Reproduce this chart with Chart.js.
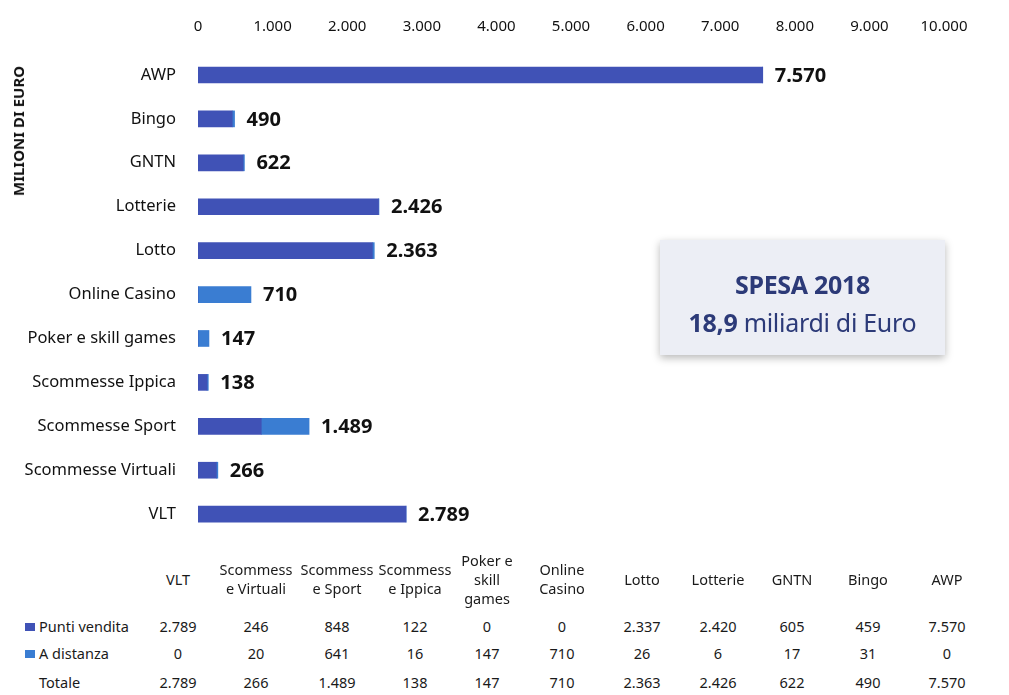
<!DOCTYPE html>
<html lang="it">
<head>
    <meta charset="UTF-8">
    <title>Spesa 2018</title>
    <script src="https://cdn.jsdelivr.net/npm/chart.js"></script>
    <style>
        body { margin: 0; background: #fff; font-family: "Noto Sans", sans-serif; }
        #wrap { position: relative; width: 1009px; height: 695px; overflow: hidden; }
        #myChart { position: absolute; left: 0; top: 0; }
        .ytitle {
            position: absolute; left: 18px; top: 131px;
            transform: translate(-50%, -50%) rotate(-90deg);
            font-weight: bold; font-size: 15px; color: #111; white-space: nowrap;
        }
        .box {
            position: absolute; left: 660px; top: 240px; width: 285px; height: 115px;
            background: #eceef5; box-shadow: 0 3px 8px rgba(0,0,0,0.28);
            color: #2c3a78; text-align: center; font-size: 25px; line-height: 38px;
            padding-top: 25px; box-sizing: border-box; letter-spacing: -0.3px;
        }
        .cell { position: absolute; width: 90px; text-align: center; font-size: 14.5px; color: #1a1a1a; line-height: 19px; }
        .rowlab { position: absolute; left: 25px; font-size: 14.5px; color: #1a1a1a; line-height: 19px; }
        .mark { display: inline-block; width: 10px; height: 8px; margin-right: 4px; vertical-align: 1px; }
    </style>
</head>
<body>
<div id="wrap">
    <canvas id="myChart" width="1009" height="568"></canvas>
    <div class="ytitle">MILIONI DI EURO</div>
    <div class="box"><b>SPESA 2018</b><br><b>18,9</b> miliardi di Euro</div>
    <div id="table"></div>
</div>
<script>
    const categories = ['AWP', 'Bingo', 'GNTN', 'Lotterie', 'Lotto', 'Online Casino', 'Poker e skill games',
        'Scommesse Ippica', 'Scommesse Sport', 'Scommesse Virtuali', 'VLT'];
    const puntiVendita = [7570, 459, 605, 2420, 2337, 0, 0, 122, 848, 246, 2789];
    const aDistanza = [0, 31, 17, 6, 26, 710, 147, 16, 641, 20, 0];
    const totale = [7570, 490, 622, 2426, 2363, 710, 147, 138, 1489, 266, 2789];
    const xTicks = [0, 1000, 2000, 3000, 4000, 5000, 6000, 7000, 8000, 9000, 10000];

    // intestazioni della tabella (ordine inverso, come nel grafico originale)
    const tableHeaders = ['VLT', 'Scommess\ne Virtuali', 'Scommess\ne Sport', 'Scommess\ne Ippica',
        'Poker e\nskill\ngames', 'Online\nCasino', 'Lotto', 'Lotterie', 'GNTN', 'Bingo', 'AWP'];

    const colPunti = '#4052b6';
    const colDistanza = '#3a7dd2';

    function fmt(n) {
        return String(n).replace(/\B(?=(\d{3})+(?!\d))/g, '.');
    }

    const totalLabels = {
        id: 'totalLabels',
        afterDatasetsDraw(chart) {
            const ctx = chart.ctx;
            const x = chart.scales.x;
            const y = chart.scales.y;
            ctx.save();
            ctx.font = 'bold 20px "Noto Sans"';
            ctx.fillStyle = '#111';
            ctx.textBaseline = 'middle';
            totale.forEach((v, i) => {
                ctx.fillText(fmt(v), x.getPixelForValue(v) + 12, y.getPixelForValue(i) + 1);
            });
            ctx.restore();
        }
    };

    new Chart(document.getElementById('myChart').getContext('2d'), {
        type: 'bar',
        data: {
            labels: categories,
            datasets: [
                { label: 'Punti vendita', data: puntiVendita, backgroundColor: colPunti, barThickness: 16 },
                { label: 'A distanza', data: aDistanza, backgroundColor: colDistanza, barThickness: 16 }
            ]
        },
        options: {
            indexAxis: 'y',
            responsive: false,
            animation: false,
            layout: { padding: { left: 0, right: 65, top: 0, bottom: 9 } },
            scales: {
                x: {
                    position: 'top',
                    stacked: true,
                    min: 0,
                    max: 10000,
                    afterBuildTicks: (s) => { s.ticks = xTicks.map(v => ({ value: v })); },
                    afterFit: (s) => { s.height = 53; },
                    grid: { display: false, drawTicks: false },
                    border: { display: false },
                    ticks: {
                        padding: 17,
                        color: '#111',
                        font: { family: 'Noto Sans', size: 15 },
                        callback: (v) => fmt(v),
                        maxRotation: 0
                    }
                },
                y: {
                    stacked: true,
                    afterFit: (s) => { s.width = 198; },
                    grid: { display: false, drawTicks: false },
                    border: { display: false },
                    ticks: {
                        padding: 22,
                        color: '#111',
                        font: { family: 'Noto Sans', size: 16.5 }
                    }
                }
            },
            plugins: {
                legend: { display: false },
                tooltip: { enabled: false }
            }
        },
        plugins: [totalLabels]
    });

    // tabella sotto il grafico
    const table = document.getElementById('table');
    const colX = [178, 256, 337, 415, 487, 562, 642, 718, 792, 868, 947];
    const rowY = [617, 644, 673];
    const rows = [
        { name: 'Punti vendita', color: colPunti, values: puntiVendita },
        { name: 'A distanza', color: colDistanza, values: aDistanza },
        { name: 'Totale', color: null, values: totale }
    ];
    let html = '';
    tableHeaders.forEach((h, c) => {
        const lines = h.split('\n');
        const top = 579 - lines.length * 19 / 2;
        html += `<div class="cell" style="left:${colX[c] - 45}px;top:${top}px">${lines.join('<br>')}</div>`;
    });
    rows.forEach((r, k) => {
        const mark = r.color ? `<span class="mark" style="background:${r.color}"></span>` : `<span class="mark"></span>`;
        html += `<div class="rowlab" style="top:${rowY[k]}px">${mark}${r.name}</div>`;
        for (let c = 0; c < categories.length; c++) {
            const v = r.values[categories.length - 1 - c];
            html += `<div class="cell" style="left:${colX[c] - 45}px;top:${rowY[k]}px">${fmt(v)}</div>`;
        }
    });
    table.innerHTML = html;
</script>
</body>
</html>
